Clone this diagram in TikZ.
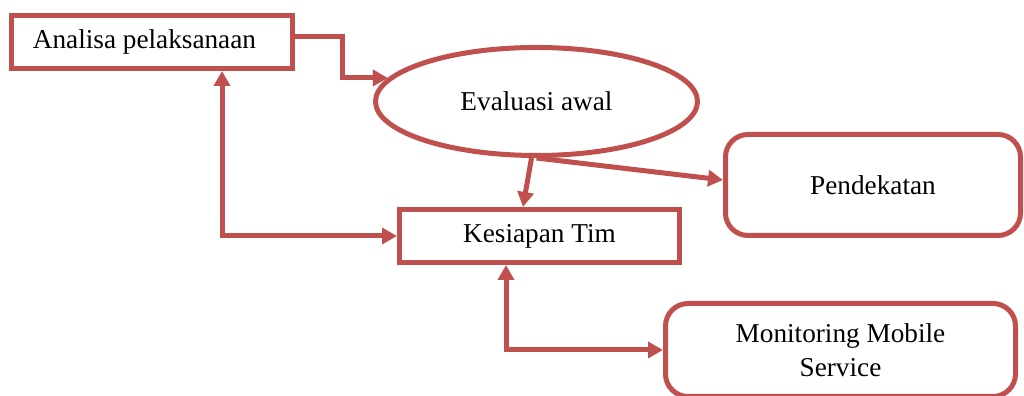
\documentclass[tikz,border=0pt]{standalone}
\usepackage{fontspec}
\setmainfont{Liberation Serif}
\usepackage{tikz}
\usetikzlibrary{shapes.geometric, arrows.meta, positioning}
\definecolor{cMerah}{RGB}{192,80,77}
\tikzset{
	kotak/.style     ={rectangle, draw=cMerah, line width=0.1cm, fill=white, minimum width=5.6cm, minimum height=1.06cm, align=center, inner sep=0pt},
	kotakbulat/.style={rectangle, rounded corners=0.45cm, draw=cMerah, line width=0.1cm, fill=white, align=center, inner sep=0pt},
	elips/.style     ={ellipse, draw=cMerah, line width=0.1cm, fill=white, minimum width=6.44cm, minimum height=2.16cm, inner sep=0pt},
	panah/.style     ={-{Triangle[length=0.3cm, width=0.32cm]}, draw=cMerah, line width=0.1cm},
	panahdua/.style  ={{Triangle[length=0.3cm, width=0.32cm]}-{Triangle[length=0.3cm, width=0.32cm]}, draw=cMerah, line width=0.1cm},
}

\begin{document}
\begin{tikzpicture}[font=\fontsize{15.5}{19.3}\selectfont]
	\useasboundingbox (0,0) rectangle (20.48,7.92);
	% kotak-kotak
	\node[kotak] (ana) at (3.04,7.08) {\hspace*{-0.3cm}Analisa pelaksanaan};
	\node[elips] (ell) at (10.73,5.89) {Evaluasi awal};
	\node[kotakbulat, minimum width=5.9cm, minimum height=2.02cm] (pen) at (17.46,4.22) {Pendekatan};
	\node[kotak] (kes) at (10.79,3.20) {Kesiapan Tim};
	\node[kotakbulat, minimum width=7.0cm, minimum height=1.86cm] (mon) at (16.81,0.92) {Monitoring Mobile\\Service};
	% panah
	\draw[panah] ([yshift=0.11cm]ana.east) -- ++(0.96,0) |- (ell.171);
	\draw[panahdua] ([xshift=1.4cm]ana.south) |- (kes.west);
	\draw[panah] ([xshift=-0.1cm]ell.south) -- ([xshift=-0.33cm]kes.north);
	\draw[panah] (ell.south) -- ([yshift=0.1cm]pen.west);
	\draw[panahdua] ([xshift=-0.67cm]kes.south) |- (mon.west);
\end{tikzpicture}
\end{document}
